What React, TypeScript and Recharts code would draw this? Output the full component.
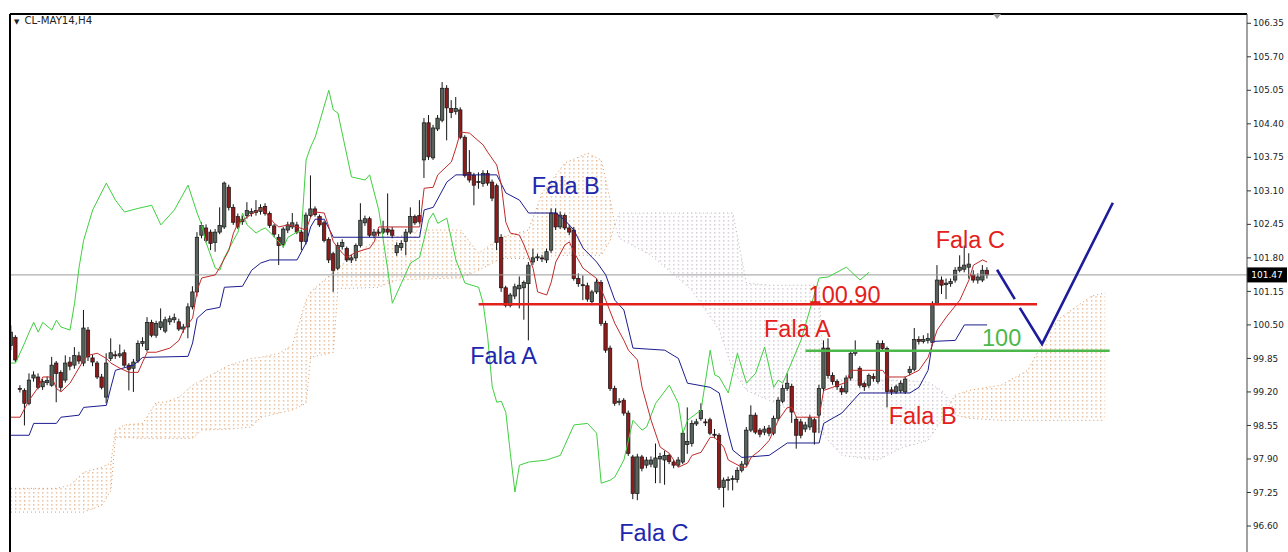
import React from "react";
import {
  Area,
  Bar,
  ComposedChart,
  Line,
  ReferenceDot,
  ReferenceLine,
  XAxis,
  YAxis,
} from "recharts";

// CL-MAY14 H4 candles: [open, high, low, close]
const candles: [number, number, number, number][] = [
  [100.10, 100.49, 100.01, 100.36], [100.26, 100.30, 99.78, 99.82], [99.27, 99.33, 99.19, 99.25], [99.23, 99.27, 98.55, 98.98],
  [98.98, 99.56, 98.94, 99.43], [99.47, 99.60, 99.40, 99.53], [99.49, 99.56, 99.25, 99.29], [99.30, 99.45, 99.24, 99.40],
  [99.38, 99.50, 99.33, 99.42], [99.33, 99.88, 99.30, 99.72], [99.76, 99.80, 99.00, 99.56], [99.58, 99.62, 99.22, 99.29],
  [99.43, 99.91, 99.38, 99.76], [99.78, 99.88, 99.62, 99.70], [99.72, 100.07, 99.65, 99.91], [99.90, 99.98, 99.74, 99.80],
  [99.76, 100.79, 99.70, 100.44], [100.40, 100.46, 99.80, 99.88], [99.86, 99.92, 99.70, 99.78], [99.76, 99.80, 99.45, 99.49],
  [99.49, 99.55, 99.25, 99.29], [99.10, 99.95, 98.98, 99.76], [99.85, 100.24, 99.80, 99.96], [99.92, 100.00, 99.84, 99.90],
  [99.90, 100.12, 99.86, 99.94], [99.96, 100.02, 99.68, 99.72], [99.72, 99.76, 99.23, 99.64], [99.66, 99.84, 99.20, 99.78],
  [99.80, 100.20, 99.76, 100.14], [100.14, 100.26, 100.08, 100.18], [100.02, 100.65, 99.98, 100.55], [100.55, 100.60, 100.26, 100.30],
  [100.30, 100.58, 100.25, 100.53], [100.45, 100.82, 100.40, 100.56], [100.38, 100.66, 100.34, 100.60], [100.56, 100.68, 100.50, 100.62],
  [100.60, 100.72, 100.54, 100.64], [100.56, 100.62, 100.38, 100.42], [100.42, 100.52, 100.35, 100.46], [100.46, 100.92, 100.24, 100.85],
  [100.85, 101.25, 100.80, 101.14], [101.14, 102.30, 101.05, 102.20], [102.24, 102.49, 102.18, 102.43], [102.38, 102.45, 102.10, 102.14],
  [102.30, 102.35, 101.95, 102.08], [102.10, 102.36, 101.92, 102.30], [102.30, 102.78, 102.26, 102.43], [102.40, 103.28, 102.36, 103.25],
  [103.17, 103.22, 102.72, 102.78], [102.78, 102.84, 102.44, 102.49], [102.60, 102.66, 102.36, 102.40], [102.50, 102.62, 102.44, 102.55],
  [102.62, 102.88, 102.56, 102.72], [102.66, 102.76, 102.60, 102.70], [102.68, 102.92, 102.62, 102.72], [102.70, 102.84, 102.64, 102.78],
  [102.80, 102.86, 102.62, 102.66], [102.66, 102.70, 102.38, 102.43], [102.42, 102.46, 102.20, 102.26], [102.20, 102.26, 101.66, 102.04],
  [102.06, 102.40, 102.00, 102.36], [102.34, 102.50, 102.28, 102.44], [102.40, 102.67, 102.36, 102.48], [102.44, 102.50, 102.26, 102.30],
  [102.30, 102.34, 101.95, 102.12], [102.12, 102.68, 102.06, 102.63], [102.62, 103.40, 102.58, 102.75], [102.75, 102.80, 102.60, 102.64],
  [102.60, 102.64, 102.40, 102.44], [102.48, 102.52, 102.10, 102.14], [102.16, 102.20, 101.70, 101.76], [101.88, 101.92, 101.14, 101.56],
  [101.60, 102.10, 101.56, 102.04], [102.02, 102.16, 101.96, 102.10], [101.98, 102.02, 101.72, 101.76], [101.76, 101.86, 101.70, 101.80],
  [101.80, 102.08, 101.74, 102.04], [102.04, 102.86, 102.00, 102.53], [102.48, 102.62, 102.42, 102.56], [102.56, 102.60, 102.20, 102.24],
  [102.24, 102.36, 102.18, 102.30], [102.30, 102.36, 102.22, 102.28], [102.30, 102.52, 102.26, 102.36], [102.36, 103.05, 102.24, 102.30],
  [102.34, 102.40, 102.18, 102.24], [101.90, 102.10, 101.84, 102.04], [102.00, 102.14, 101.94, 102.08], [102.12, 102.36, 101.85, 102.30],
  [102.30, 102.78, 102.26, 102.60], [102.60, 102.64, 102.44, 102.48], [102.62, 102.92, 102.46, 102.50], [103.70, 104.51, 103.35, 104.42],
  [104.42, 104.57, 103.70, 103.76], [103.74, 104.38, 103.70, 104.32], [104.30, 104.57, 104.26, 104.51], [104.47, 105.21, 104.43, 105.09],
  [105.09, 105.15, 104.08, 104.71], [104.70, 104.86, 104.51, 104.62], [104.64, 104.92, 104.58, 104.70], [104.67, 104.72, 104.10, 104.14],
  [104.14, 104.18, 103.36, 103.40], [103.46, 103.89, 103.26, 103.31], [103.40, 103.45, 102.82, 103.21], [103.26, 103.46, 103.14, 103.28],
  [103.24, 103.50, 103.18, 103.44], [103.44, 103.50, 103.20, 103.25], [103.27, 103.32, 102.90, 102.96], [103.20, 103.24, 101.95, 102.10],
  [102.20, 102.26, 101.14, 101.22], [101.22, 101.26, 100.84, 100.88], [100.88, 101.12, 100.84, 101.08], [101.06, 101.30, 101.00, 101.24],
  [101.20, 101.44, 100.82, 101.27], [101.22, 101.36, 100.60, 101.32], [101.30, 101.72, 100.20, 101.66], [101.72, 101.98, 101.66, 101.80],
  [101.80, 101.88, 101.74, 101.82], [101.80, 101.86, 101.72, 101.78], [101.76, 101.98, 101.70, 101.92], [101.95, 102.76, 101.90, 102.67],
  [102.67, 102.76, 102.34, 102.40], [102.40, 102.70, 102.36, 102.63], [102.62, 102.66, 102.34, 102.38], [102.38, 102.44, 102.24, 102.30],
  [102.34, 102.40, 101.36, 101.40], [101.40, 101.50, 101.24, 101.30], [101.28, 101.46, 100.98, 101.26], [101.26, 101.32, 100.95, 101.00],
  [100.95, 101.18, 100.88, 101.14], [101.14, 101.40, 101.10, 101.33], [101.32, 101.37, 100.48, 100.53], [100.53, 100.58, 99.96, 100.01],
  [100.05, 100.10, 99.22, 99.27], [99.27, 99.32, 98.93, 98.98], [99.00, 99.08, 98.94, 99.02], [99.04, 99.08, 98.74, 98.79],
  [98.79, 98.84, 97.96, 98.01], [97.94, 97.98, 97.12, 97.23], [97.23, 98.00, 97.10, 97.94], [97.94, 97.98, 97.66, 97.72],
  [97.78, 97.94, 97.72, 97.88], [97.80, 97.95, 97.74, 97.88], [97.74, 98.20, 97.43, 97.92], [97.90, 98.02, 97.43, 97.95],
  [97.88, 98.06, 97.40, 97.97], [97.97, 98.00, 97.80, 97.85], [97.84, 97.88, 97.72, 97.78], [97.78, 97.94, 97.74, 97.88],
  [97.84, 98.46, 97.80, 98.40], [98.18, 98.90, 98.00, 98.24], [98.20, 98.65, 98.14, 98.59], [98.58, 98.68, 98.54, 98.62],
  [98.68, 98.98, 98.64, 98.84], [98.62, 98.68, 98.54, 98.60], [98.66, 98.70, 98.36, 98.40], [98.38, 98.48, 98.30, 98.36],
  [98.36, 98.40, 97.30, 97.35], [97.35, 97.54, 96.96, 97.49], [97.48, 97.56, 97.29, 97.50], [97.50, 97.58, 97.29, 97.52],
  [97.50, 97.74, 97.44, 97.68], [97.68, 97.86, 97.64, 97.80], [97.80, 98.52, 97.76, 98.46], [98.46, 98.94, 98.42, 98.75],
  [98.75, 98.80, 98.38, 98.42], [98.46, 98.50, 98.32, 98.38], [98.42, 98.54, 98.36, 98.48], [98.50, 98.56, 98.34, 98.40],
  [98.40, 98.74, 98.36, 98.69], [98.69, 99.10, 98.64, 99.04], [99.02, 99.34, 98.98, 99.27], [99.27, 99.56, 99.22, 99.37],
  [99.31, 99.36, 98.60, 98.81], [98.67, 98.72, 98.10, 98.36], [98.62, 98.68, 98.30, 98.36], [98.48, 98.62, 98.42, 98.56],
  [98.52, 98.76, 98.46, 98.70], [98.66, 98.70, 98.18, 98.42], [98.75, 99.34, 98.40, 99.27], [99.27, 100.20, 99.20, 100.05],
  [100.05, 100.24, 99.46, 99.52], [99.52, 99.58, 99.34, 99.40], [99.40, 99.44, 99.24, 99.30], [99.27, 99.32, 99.14, 99.20],
  [99.20, 99.52, 99.16, 99.47], [99.47, 100.00, 99.42, 99.95], [99.95, 100.20, 99.90, 100.00], [99.66, 99.70, 99.28, 99.33],
  [99.36, 99.40, 99.22, 99.30], [99.33, 99.56, 99.28, 99.52], [99.50, 99.56, 99.40, 99.46], [99.40, 100.20, 99.36, 100.14],
  [100.14, 100.20, 99.98, 100.04], [100.04, 100.08, 98.90, 99.21], [99.24, 99.30, 99.14, 99.20], [99.20, 99.34, 99.16, 99.30],
  [99.22, 99.42, 99.18, 99.37], [99.20, 99.50, 99.16, 99.45], [99.58, 99.70, 99.52, 99.64], [99.64, 100.44, 99.60, 100.22],
  [100.22, 100.28, 100.12, 100.18], [100.18, 100.30, 100.14, 100.22], [100.20, 100.34, 100.14, 100.24], [100.16, 100.96, 100.10, 100.92],
  [100.92, 101.66, 100.88, 101.37], [101.37, 101.44, 101.10, 101.27], [101.28, 101.40, 101.00, 101.31], [101.30, 101.40, 101.24, 101.34],
  [101.37, 101.62, 101.32, 101.56], [101.56, 101.85, 101.52, 101.62], [101.58, 102.04, 101.52, 101.66], [101.62, 101.89, 101.40, 101.68],
  [101.47, 101.56, 101.32, 101.37], [101.37, 101.50, 101.30, 101.43], [101.37, 101.66, 101.33, 101.56], [101.56, 101.62, 101.40, 101.47],
];

// Ichimoku lines: [bar, price]
const tenkan: [number, number][] = [
  [0, 98.71], [2, 98.71], [4, 99.04], [6, 99.29], [7, 99.49], [9, 99.49], [10, 99.27], [11, 99.2], [13, 99.37], [16, 99.82],
  [17, 99.91], [19, 99.95], [21, 99.85], [22, 99.76], [24, 99.66], [26, 99.58], [28, 99.58], [29, 99.78], [30, 99.97], [32, 99.97],
  [35, 100.05], [37, 100.2], [38, 100.4], [40, 100.63], [41, 101.17], [42, 101.41], [45, 101.47], [46, 101.62], [48, 101.95], [49, 102.28],
  [50, 102.47], [52, 102.59], [55, 102.76], [56, 102.69], [58, 102.47], [59, 102.4], [61, 102.44], [63, 102.4], [65, 102.34], [66, 102.59],
  [67, 102.69], [69, 102.67], [70, 102.4], [71, 102.11], [73, 101.89], [74, 101.81], [76, 101.91], [79, 101.99], [80, 102.11], [81, 102.4],
  [90, 102.4], [91, 103.15], [93, 103.17], [94, 103.41], [97, 103.66], [98, 103.93], [99, 104.24], [101, 104.22], [104, 103.99], [105, 103.85],
  [107, 103.6], [108, 103.21], [109, 102.49], [110, 102.28], [112, 102.24], [113, 102.05], [115, 101.6], [116, 101.14], [118, 101.08], [119, 101.33],
  [120, 101.72], [122, 102.05], [123, 102.11], [124, 101.91], [126, 101.6], [129, 101.4], [131, 100.98], [133, 100.53], [135, 100.2], [136, 100.01],
  [138, 99.82], [139, 99.29], [141, 98.65], [143, 98.13], [145, 98.01], [147, 97.74], [149, 97.82], [150, 97.97], [152, 98.03], [154, 98.32],
  [155, 98.32], [157, 98.13], [158, 97.88], [161, 97.74], [162, 97.74], [163, 97.93], [165, 98.07], [167, 98.26], [169, 98.65], [171, 98.9],
  [172, 98.9], [173, 98.71], [178, 98.71], [179, 99.23], [181, 99.29], [184, 99.39], [185, 99.62], [192, 99.62], [193, 99.49], [197, 99.49],
  [200, 99.62], [202, 99.87], [204, 100.4], [206, 100.65], [209, 100.98], [211, 101.37], [212, 101.66], [214, 101.76], [215, 101.72],
];

const kijun: [number, number][] = [
  [0, 98.36], [4, 98.36], [5, 98.59], [10, 98.59], [11, 98.71], [15, 98.75], [16, 98.9], [21, 98.94], [22, 99.29], [23, 99.62],
  [27, 99.72], [29, 99.87], [39, 99.89], [40, 100.15], [41, 100.63], [43, 100.79], [46, 100.84], [47, 101.23], [51, 101.25], [53, 101.56],
  [55, 101.7], [57, 101.76], [63, 101.76], [65, 102.09], [66, 102.4], [67, 102.55], [69, 102.55], [71, 102.2], [90, 102.2], [91, 102.73],
  [93, 102.78], [96, 103.27], [98, 103.41], [107, 103.41], [109, 103.06], [112, 102.92], [114, 102.67], [120, 102.67], [122, 102.53], [124, 102.34],
  [126, 101.99], [129, 101.72], [131, 101.47], [133, 100.98], [135, 100.79], [137, 100.05], [144, 100.01], [147, 99.85], [149, 99.37], [154, 99.29],
  [156, 99.18], [158, 98.4], [159, 98.07], [161, 97.93], [167, 97.97], [171, 98.21], [178, 98.21], [179, 98.59], [183, 98.79], [187, 99.18],
  [198, 99.18], [200, 99.29], [202, 99.62], [203, 100.18], [208, 100.2], [210, 100.5], [215, 100.5],
];

const chikou: [number, number][] = [
  [0, 99.76], [1, 99.76], [3, 100.15], [4, 100.36], [5, 100.55], [6, 100.36], [7, 100.55], [9, 100.4], [10, 100.59], [11, 100.46],
  [13, 100.4], [14, 100.92], [15, 101.62], [16, 102.14], [18, 102.73], [21, 103.25], [23, 102.92], [25, 102.69], [28, 102.76], [31, 102.82],
  [33, 102.44], [36, 102.73], [39, 103.21], [41, 102.67], [42, 102.44], [43, 102.09], [45, 101.6], [46, 101.56], [47, 101.81], [49, 102.14],
  [50, 102.3], [51, 102.67], [52, 102.44], [54, 102.28], [55, 102.34], [56, 102.38], [57, 102.3], [59, 102.11], [60, 102.01], [61, 102.2],
  [63, 102.3], [64, 102.34], [65, 103.7], [66, 103.95], [67, 104.14], [70, 105.05], [71, 104.67], [72, 104.61], [75, 103.37], [78, 103.31],
  [79, 103.41], [81, 102.73], [83, 101.56], [84, 100.92], [86, 101.31], [88, 101.7], [90, 101.81], [92, 102.53], [93, 102.67], [94, 102.47],
  [96, 102.57], [98, 101.76], [100, 101.31], [103, 101.23], [104, 100.92], [105, 100.26], [106, 99.3], [107, 99.0], [108, 99.02], [109, 98.8],
  [110, 98.0], [111, 97.26], [112, 97.78], [114, 97.84], [118, 97.88], [121, 97.97], [124, 98.56], [127, 98.59], [129, 98.4], [130, 97.43],
  [132, 97.49], [133, 97.55], [135, 97.88], [137, 98.65], [139, 98.46], [140, 98.52], [142, 98.98], [145, 99.33], [147, 98.98], [148, 98.4],
  [149, 98.65], [152, 98.85], [154, 100.01], [155, 99.53], [156, 99.49], [158, 99.18], [160, 99.95], [162, 99.37], [164, 99.56], [166, 100.07],
  [168, 99.29], [169, 99.43], [170, 99.37], [174, 100.2], [178, 101.41], [180, 101.43], [184, 101.62], [187, 101.37], [189, 101.52],
];

// cloud (shifted 26 bars ahead): [bar, senkou A, senkou B]
const cloud: [number, number, number][] = [
  [0, 97.33, 96.87], [10, 97.33, 96.87], [13, 97.39, 96.87], [16, 97.64, 96.87], [20, 97.74, 97.0], [22, 97.82, 97.29],
  [23, 98.46, 98.32], [25, 98.56, 98.32], [29, 98.59, 98.3], [32, 99.0, 98.3], [34, 99.0, 98.3], [37, 99.1, 98.3],
  [40, 99.33, 98.3], [42, 99.43, 98.46], [48, 99.72, 98.48], [53, 99.85, 98.52], [55, 99.87, 98.71], [59, 99.95, 98.79],
  [62, 100.11, 98.85], [65, 100.98, 98.98], [66, 101.14, 99.87], [71, 101.52, 99.97], [72, 101.6, 101.21], [75, 101.81, 101.21],
  [81, 102.18, 101.23], [82, 102.38, 101.27], [85, 102.2, 101.37], [90, 102.34, 101.39], [99, 102.34, 101.41], [103, 101.89, 101.56],
  [108, 102.2, 101.79], [114, 102.34, 101.79], [117, 103.06, 101.83], [122, 103.64, 101.85], [127, 103.83, 101.85], [130, 103.7, 101.85],
  [132, 102.92, 102.14], [133, 102.45, 102.45], [134, 102.18, 102.67], [141, 101.85, 102.67], [150, 101.17, 102.67], [156, 100.4, 102.67],
  [159, 99.62, 102.67], [162, 99.23, 101.31], [167, 99.04, 101.27], [174, 98.75, 101.27], [178, 98.46, 101.27], [179, 98.36, 99.47],
  [183, 97.97, 99.43], [191, 97.88, 99.43], [196, 98.11, 99.43], [202, 98.26, 99.39], [205, 98.65, 99.23], [207, 99.0, 99.0],
  [208, 99.14, 98.75], [211, 99.23, 98.69], [218, 99.33, 98.65], [224, 99.62, 98.65], [228, 100.3, 98.65], [231, 100.63, 98.65],
  [238, 101.06, 98.65], [241, 101.12, 98.65],
];

const priceTicks = [96.6, 97.25, 97.9, 98.55, 99.2, 99.85, 100.5, 101.15, 101.8, 102.45, 103.1, 103.75, 104.4, 105.05, 105.7, 106.35];
const lastPrice = 101.47;
const priceTop = 106.53;
const priceBottom = 96.096;
const barFirst = -0.22;
const barLast = 272.25;

// drawn analysis
const resistance = { price: 100.9, from: 103, to: 226 };
const support = { price: 100, from: 175, to: 242 };
const projectionA: [number, number][] = [[217.2, 101.57], [221.1, 101.0]];
const projectionB: [number, number][] = [[222.2, 100.83], [227.1, 100.13], [242.7, 102.87]];

const blueLabels = [
  { text: "Fala B", bar: 122.2, price: 103.21 },
  { text: "Fala A", bar: 108.5, price: 99.9 },
  { text: "Fala C", bar: 141.6, price: 96.48 },
];
const redLabels = [
  { text: "Fala C", bar: 211.3, price: 102.15 },
  { text: "Fala A", bar: 173.2, price: 100.42 },
  { text: "Fala B", bar: 200.8, price: 98.74 },
  { text: "100.90", bar: 183.6, price: 101.08 },
];
const greenLabels = [{ text: "100", bar: 218.2, price: 100.26 }];

const candleRows = candles.map(([o, h, l, c], i) => ({ i, o, h, l, c }));
const pts = (arr: [number, number][]) => arr.map(([i, p]) => ({ i, p }));
const cloudRows = (lo: number, hi: number) =>
  cloud
    .filter(([i]) => i >= lo && i <= hi)
    .map(([i, a, b]) => ({ i, range: [Math.min(a, b), Math.max(a, b)] }));

const FONT = "'Liberation Sans', Arial, sans-serif";
const AXIS_FONT = "'DejaVu Sans', Tahoma, sans-serif";
const BLUE = "#2127ad";
const RED = "#e3201b";
const GREEN = "#4cb74a";

const Candle = (props: any) => {
  const { x, y, width, height, payload } = props;
  if (!payload) return null;
  const top = Math.min(y, y + height);
  const span = Math.abs(height);
  const { o, h, l, c } = payload;
  const k = h - l > 0 ? span / (h - l) : 0;
  const py = (v: number) => top + (h - v) * k;
  const cx = x + width / 2;
  const b1 = py(Math.max(o, c));
  const b2 = py(Math.min(o, c));
  const up = c >= o;
  return (
    <g>
      <line x1={cx} x2={cx} y1={top} y2={top + span} stroke="#141414" strokeWidth={1} />
      <rect
        x={cx - 1.7}
        y={b1}
        width={3.4}
        height={Math.max(b2 - b1, 1)}
        fill={up ? "#56625a" : "#8e1b1b"}
        stroke="#151515"
        strokeWidth={0.7}
      />
    </g>
  );
};

const PriceTag = (props: any) => {
  const { x, y, width } = props.viewBox;
  const left = x + width;
  return (
    <g>
      <rect x={left} y={y - 7.5} width={40} height={15} fill="#000" />
      <text x={left + 20} y={y + 3.5} fill="#fff" fontSize={9} textAnchor="middle" fontFamily={AXIS_FONT}>
        {lastPrice.toFixed(2)}
      </text>
    </g>
  );
};

const ShiftMarker = (props: any) => {
  const { cx, cy } = props;
  return <polygon points={`${cx - 4},${cy} ${cx + 4},${cy} ${cx},${cy + 5}`} fill="#9a9a9a" />;
};

const textLabel = (value: string, fill: string) => ({
  value,
  position: "center" as const,
  fill,
  fontSize: 23.5,
  fontFamily: FONT,
});

export default function App() {
  return (
    <div style={{ position: "absolute", left: 0, top: 0, width: 1288, height: 552, overflow: "hidden", background: "#fff" }}>
      <ComposedChart
        width={1288}
        height={552}
        data={candleRows}
        margin={{ top: 14, right: 0, left: 10, bottom: 0 }}
      >
        <defs>
          <pattern id="dotsUp" patternUnits="userSpaceOnUse" x={10.4} y={0} width={4.54} height={4}>
            <rect width={1.3} height={1.6} fill="#d98d4f" />
          </pattern>
          <pattern id="dotsDown" patternUnits="userSpaceOnUse" x={10.4} y={0} width={4.54} height={4}>
            <rect width={1.3} height={1.6} fill="#b4a4b4" />
          </pattern>
        </defs>
        <XAxis dataKey="i" type="number" domain={[barFirst, barLast]} allowDataOverflow hide />
        <YAxis
          yAxisId="price"
          orientation="right"
          width={41}
          domain={[priceBottom, priceTop]}
          allowDataOverflow
          ticks={priceTicks}
          interval={0}
          tickSize={4}
          tickFormatter={(v: number) => v.toFixed(2)}
          tick={{ fontSize: 8.8, fill: "#222", fontFamily: AXIS_FONT }}
          tickLine={{ stroke: "#333" }}
          axisLine={{ stroke: "#444" }}
        />

        <Area yAxisId="price" data={cloudRows(0, 133)} dataKey="range" type="linear" fill="url(#dotsUp)" stroke="#dd9a60" strokeDasharray="1 3" strokeWidth={1} isAnimationActive={false} />
        <Area yAxisId="price" data={cloudRows(133, 207)} dataKey="range" type="linear" fill="url(#dotsDown)" stroke="#c0b0c0" strokeDasharray="1 3" strokeWidth={1} isAnimationActive={false} />
        <Area yAxisId="price" data={cloudRows(207, 241)} dataKey="range" type="linear" fill="url(#dotsUp)" stroke="#dd9a60" strokeDasharray="1 3" strokeWidth={1} isAnimationActive={false} />

        <ReferenceLine yAxisId="price" y={lastPrice} stroke="#9a9a9a" strokeWidth={1} label={<PriceTag />} />

        <Line yAxisId="price" data={pts(chikou)} dataKey="p" type="linear" stroke="#3fcf3f" strokeWidth={1} dot={false} isAnimationActive={false} />
        <Line yAxisId="price" data={pts(kijun)} dataKey="p" type="linear" stroke="#1c1c8e" strokeWidth={1} dot={false} isAnimationActive={false} />
        <Line yAxisId="price" data={pts(tenkan)} dataKey="p" type="linear" stroke="#c02a2a" strokeWidth={1} dot={false} isAnimationActive={false} />

        <Bar yAxisId="price" dataKey={(d: any) => [d.l, d.h]} barSize={4} shape={<Candle />} isAnimationActive={false} />

        <ReferenceLine
          yAxisId="price"
          segment={[{ x: resistance.from, y: resistance.price }, { x: resistance.to, y: resistance.price }]}
          stroke={RED}
          strokeWidth={2.5}
        />
        <ReferenceLine
          yAxisId="price"
          segment={[{ x: support.from, y: support.price }, { x: support.to, y: support.price }]}
          stroke={GREEN}
          strokeWidth={2.5}
        />
        <Line yAxisId="price" data={pts(projectionA)} dataKey="p" type="linear" stroke="#1d1d9c" strokeWidth={2.6} dot={false} isAnimationActive={false} />
        <Line yAxisId="price" data={pts(projectionB)} dataKey="p" type="linear" stroke="#1d1d9c" strokeWidth={2.6} dot={false} isAnimationActive={false} />

        {blueLabels.map((l) => (
          <ReferenceDot key={"b" + l.text} yAxisId="price" x={l.bar} y={l.price} r={0} fill="none" stroke="none" label={textLabel(l.text, BLUE)} />
        ))}
        {redLabels.map((l) => (
          <ReferenceDot key={"r" + l.text} yAxisId="price" x={l.bar} y={l.price} r={0} fill="none" stroke="none" label={textLabel(l.text, RED)} />
        ))}
        {greenLabels.map((l) => (
          <ReferenceDot key={"g" + l.text} yAxisId="price" x={l.bar} y={l.price} r={0} fill="none" stroke="none" label={textLabel(l.text, GREEN)} />
        ))}
        <ReferenceDot yAxisId="price" x={217.2} y={priceTop} r={0} shape={<ShiftMarker />} />

        {/* chart frame: top and left edges */}
        <ReferenceLine yAxisId="price" y={priceTop} stroke="#000" strokeWidth={2} />
        <ReferenceLine yAxisId="price" x={barFirst} stroke="#000" strokeWidth={2} />
      </ComposedChart>
      <div
        style={{
          position: "absolute",
          left: 14,
          top: 15,
          fontSize: 10.2,
          fontFamily: AXIS_FONT,
          color: "#222",
          whiteSpace: "nowrap",
        }}
      >
        <span style={{ fontSize: 7, marginRight: 5 }}>▼</span>CL-MAY14,H4
      </div>
    </div>
  );
}
